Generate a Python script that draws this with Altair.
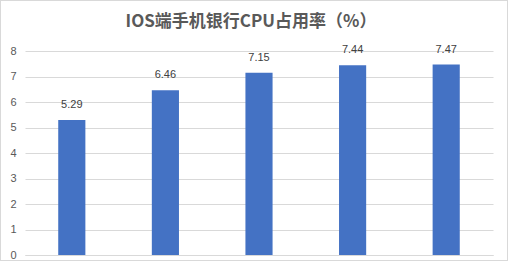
import altair as alt
import pandas as pd

categories = ["1", "2", "3", "4", "5"]
values = [5.29, 6.46, 7.15, 7.44, 7.47]
labels = ["5.29", "6.46", "7.15", "7.44", "7.47"]
y_ticks = [0, 1, 2, 3, 4, 5, 6, 7, 8]
title_text = "IOS端手机银行CPU占用率（%）"

df = pd.DataFrame({"cat": categories, "val": values, "lab": labels})

W, H = 468, 204

x = alt.X("cat:N", sort=categories, title=None,
          scale=alt.Scale(paddingInner=0.71, paddingOuter=0.355),
          axis=alt.Axis(labels=False, ticks=False, domain=True,
                        domainColor="#d9d9d9", domainWidth=1))
y = alt.Y("val:Q", title=None,
          scale=alt.Scale(domain=[0, 8], nice=False),
          axis=alt.Axis(values=y_ticks, grid=True, gridColor="#d9d9d9",
                        ticks=False, domain=False, labelColor="#595959",
                        labelFontSize=11, labelPadding=9,
                        labelFont="Liberation Sans"))

bars = alt.Chart(df).mark_bar(color="#4472c4").encode(x=x, y=y)
text = alt.Chart(df).mark_text(dy=-15, fontSize=11, color="#404040",
                               font="Liberation Sans").encode(
    x=x, y=y, text="lab:N")

title = alt.Chart(pd.DataFrame({"t": [title_text]})).mark_text(
    fontSize=17, font="Noto Sans CJK SC", fontWeight="bold",
    color="#595959", baseline="middle", align="center").encode(
    x=alt.value(226), y=alt.value(-29.5), text="t:N")

border = alt.Chart(df).mark_rect(fill=None, stroke="#d9d9d9", strokeWidth=1,
                                 clip=False).encode(
    x=alt.value(-24.5), x2=alt.value(W + 14.5),
    y=alt.value(-50.5), y2=alt.value(H + 5.5))

chart = alt.layer(bars, text, title, border).properties(
    width=W, height=H,
    padding={"left": 25, "top": 51, "right": 15, "bottom": 6},
    autosize=alt.AutoSizeParams(type="none"),
).configure(background="white").configure_view(stroke=None)

chart.save("out.html", embed_options={"renderer": "svg", "actions": False})
